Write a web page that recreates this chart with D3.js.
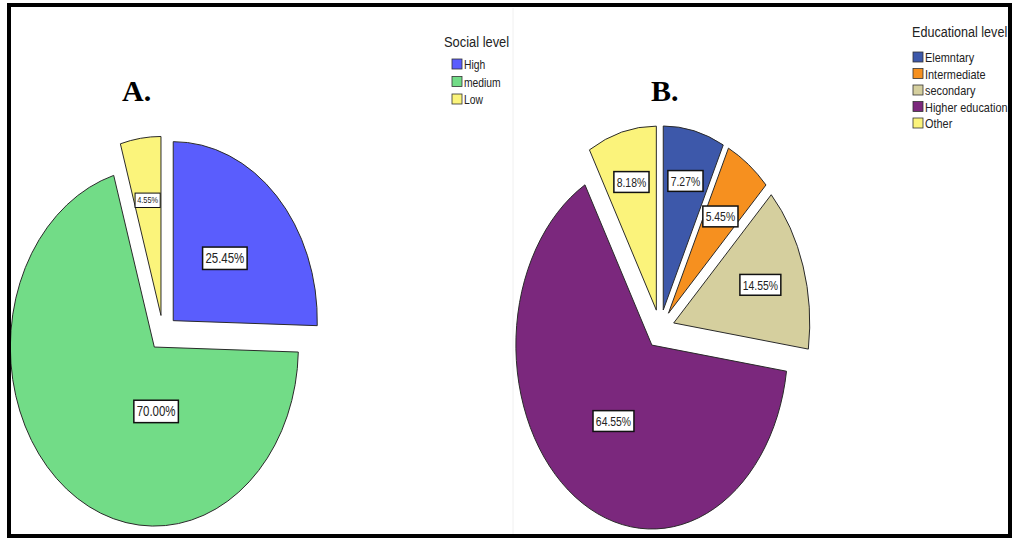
<!DOCTYPE html>
<html>
<head>
<meta charset="utf-8">
<script src="https://cdn.jsdelivr.net/npm/d3@7"></script>
<style>
  body { margin: 0; background: #fff; }
  svg { display: block; }
</style>
</head>
<body>
<svg id="chart" width="1013" height="538"></svg>
<script>
// data
const socialLevels = ['High', 'medium', 'Low'];
const socialPct = [25.45, 70.00, 4.55];
const socialColors = ['#5a5dfd', '#72dc87', '#fbf47b'];

const eduLevels = ['Elemntary', 'Intermediate', 'secondary', 'Higher education', 'Other'];
const eduPct = [7.27, 5.45, 14.55, 64.55, 8.18];
const eduColors = ['#3d58aa', '#f6901f', '#d5cf9e', '#7b287d', '#fbf37b'];

// label placement inside slices (fraction of radius, optional angle override in degrees)
const labelFracA = [0.5, 0.36, 0.65];
const labelAngA = [null, 178, null];
const labelSizeA = [14, 14, 9];
const labelFracB = [0.72, 0.65, 0.67, 0.5, 0.72];
const labelAngB = [null, null, null, null, null];

const svg = d3.select('#chart');

// frame + faint seam between the two panels
svg.append('line')
  .attr('x1', 513).attr('x2', 513).attr('y1', 8).attr('y2', 534)
  .attr('stroke', '#f0f0f0').attr('stroke-width', 1);

const FONT = 'Liberation Sans, Arial, sans-serif';

// draws one exploded (stretched) pie
function drawPie(opts) {
  const pie = d3.pie().sort(null).value(d => d.v);
  const arcs = pie(opts.values.map((v, i) => ({ v: v, i: i })));
  const arc = d3.arc().innerRadius(0).outerRadius(1);

  const g = svg.append('g')
    .attr('transform', `translate(${opts.cx},${opts.cy}) scale(${opts.rx},${opts.ry})`);

  const mid = d => (d.startAngle + d.endAngle) / 2;

  g.selectAll('path')
    .data(arcs)
    .join('path')
    .attr('d', arc)
    .attr('transform', d => `translate(${Math.sin(mid(d)) * opts.explode},${-Math.cos(mid(d)) * opts.explode})`)
    .attr('fill', d => opts.colors[d.index])
    .attr('stroke', '#2a2a2a')
    .attr('stroke-width', 1)
    .attr('vector-effect', 'non-scaling-stroke');

  // labels
  arcs.forEach((d, i) => {
    const m = mid(d);
    const a = opts.labelAng[i] != null ? opts.labelAng[i] * Math.PI / 180 : m;
    const f = opts.labelFrac[i];
    const x = opts.cx + opts.rx * (Math.sin(m) * opts.explode + Math.sin(a) * f);
    const y = opts.cy + opts.ry * (-Math.cos(m) * opts.explode - Math.cos(a) * f);
    const size = opts.labelSize[i];

    const lg = svg.append('g').attr('transform', `translate(${x},${y})`);
    const box = lg.append('rect');
    const t = lg.append('text')
      .attr('text-anchor', 'middle')
      .attr('dominant-baseline', 'central')
      .attr('font-family', FONT)
      .attr('font-size', size)
      .attr('fill', '#222')
      .attr('transform', `scale(${opts.squeeze},1)`)
      .text(opts.values[i].toFixed(2) + '%');
    const bb = t.node().getBBox();
    const w = bb.width * opts.squeeze + size * 0.4;
    const h = size * 1.6;
    box.attr('x', -w / 2).attr('y', -h / 2)
      .attr('width', w).attr('height', h)
      .attr('fill', '#fff').attr('stroke', '#111').attr('stroke-width', size > 10 ? 1.5 : 1);
  });
}

function drawLegend(opts) {
  svg.append('text')
    .attr('x', opts.x).attr('y', opts.titleY)
    .attr('font-family', FONT)
    .attr('font-size', opts.titleSize)
    .attr('fill', '#222')
    .attr('transform', `translate(${opts.x * (1 - opts.squeeze)},0) scale(${opts.squeeze},1)`)
    .text(opts.title);

  const rows = svg.append('g');
  opts.labels.forEach((lab, i) => {
    const cy = opts.y0 + i * opts.step;
    rows.append('rect')
      .attr('x', opts.sx).attr('y', cy - 5)
      .attr('width', 10).attr('height', 10)
      .attr('fill', opts.colors[i])
      .attr('stroke', '#333').attr('stroke-width', 0.8);
    const tx = opts.sx + 12;
    rows.append('text')
      .attr('x', tx).attr('y', cy + 1)
      .attr('dominant-baseline', 'central')
      .attr('font-family', FONT)
      .attr('font-size', opts.itemSize)
      .attr('fill', '#222')
      .attr('transform', `translate(${tx * (1 - opts.squeeze)},0) scale(${opts.squeeze},1)`)
      .text(lab);
  });
}

drawPie({
  values: socialPct, colors: socialColors,
  cx: 163, cy: 333, rx: 144, ry: 179, explode: 0.099,
  labelFrac: labelFracA, labelAng: labelAngA, labelSize: labelSizeA, squeeze: 0.82
});

drawPie({
  values: eduPct, colors: eduColors,
  cx: 660, cy: 329, rx: 136, ry: 184, explode: 0.106,
  labelFrac: labelFracB, labelAng: labelAngB, labelSize: eduPct.map(() => 13), squeeze: 0.8
});

drawLegend({
  title: 'Social level', labels: socialLevels, colors: socialColors,
  x: 444, titleY: 47, titleSize: 15, sx: 452, y0: 64, step: 17.5, itemSize: 12, squeeze: 0.86
});

drawLegend({
  title: 'Educational level', labels: eduLevels, colors: eduColors,
  x: 912, titleY: 37, titleSize: 15, sx: 913, y0: 57, step: 16.5, itemSize: 13, squeeze: 0.84
});

// panel tags
svg.append('text')
  .attr('x', 122).attr('y', 101)
  .attr('font-family', 'Liberation Serif, Times New Roman, serif')
  .attr('font-weight', 'bold').attr('font-size', 30)
  .text('A.');
svg.append('text')
  .attr('x', 651).attr('y', 101)
  .attr('font-family', 'Liberation Serif, Times New Roman, serif')
  .attr('font-weight', 'bold').attr('font-size', 30)
  .text('B.');

// outer frame on top
svg.append('rect')
  .attr('x', 9).attr('y', 5).attr('width', 1001).attr('height', 531)
  .attr('fill', 'none').attr('stroke', '#000').attr('stroke-width', 4);
</script>
</body>
</html>
